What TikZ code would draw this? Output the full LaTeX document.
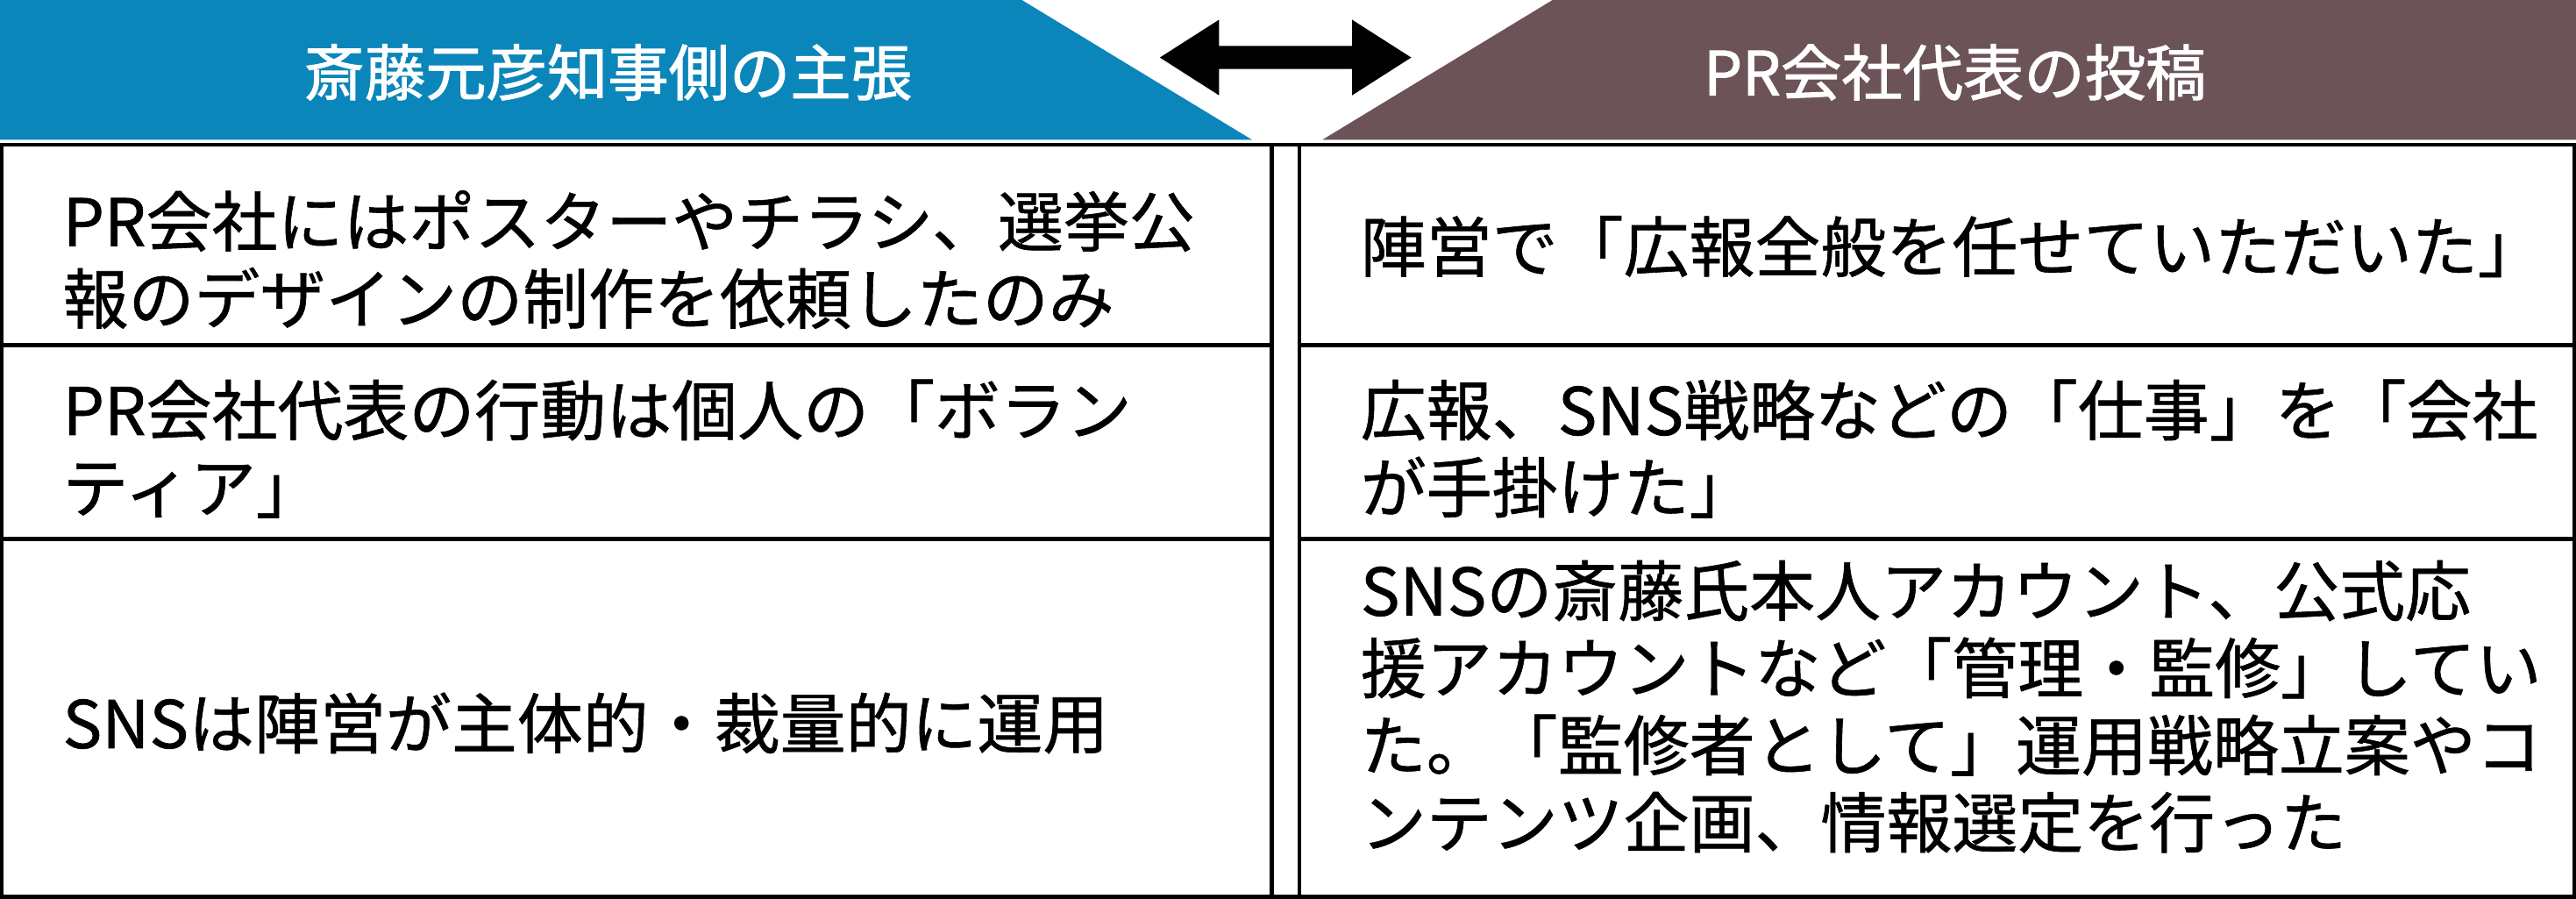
\documentclass[tikz,border=0pt]{standalone}
\usepackage{fontspec}
\setmainfont{Noto Sans CJK JP}
\newfontfamily\medfont[FakeBold=0.8]{Noto Sans CJK JP}
\newfontfamily\hfont[FakeBold=1.5]{Noto Sans CJK JP}
\definecolor{hblue}{HTML}{0B86BA}
\definecolor{hbrown}{HTML}{6C5358}
\tikzset{
  cell/.style={anchor=west,align=left,inner sep=0pt,font=\medfont\fontsize{40}{47}\selectfont},
  head/.style={text=white,inner sep=0pt,font=\hfont\fontsize{37}{40}\selectfont},
  rule/.style={line width=2.4pt,black}
}
\begin{document}
\begin{tikzpicture}[x=1pt,y=-1pt]
\useasboundingbox (0,0) rectangle (1568,547);
\fill[hblue] (0,0) -- (622,0) -- (762,85) -- (0,85) -- cycle;
\fill[hbrown] (945,0) -- (1568,0) -- (1568,85) -- (805,85) -- cycle;
\node[head] (hl) at (370,44) {斎藤元彦知事側の主張};
\node[head] (hr) at (1190,44) {PR会社代表の投稿};
\fill[black] (706,35) -- (742,12) -- (742,28) -- (823,28) -- (823,12) -- (859,35)
  -- (823,58) -- (823,42) -- (742,42) -- (742,58) -- cycle;
\draw[rule] (1.2,88) rectangle (1566.8,545.8);
\draw[rule] (774,88) -- (774,545);
\draw[rule] (791,88) -- (791,545);
\draw[rule] (1,210) -- (774,210);
\draw[rule] (791,210) -- (1567,210);
\draw[rule] (1,328) -- (774,328);
\draw[rule] (791,328) -- (1567,328);
\node[cell] (l1) at (38,158) {PR会社にはポスターやチラシ、選挙公\\報のデザインの制作を依頼したのみ};
\node[cell] (l2) at (38,273) {PR会社代表の行動は個人の「ボラン\\ティア」};
\node[cell] (l3) at (38,440) {SNSは陣営が主体的・裁量的に運用};
\node[cell] (r1) at (828,150) {陣営で「広報全般を任せていただいた」};
\node[cell] (r2) at (828,273) {広報、SNS戦略などの「仕事」を「会社\\が手掛けた」};
\node[cell] (r3) at (828,430) {SNSの斎藤氏本人アカウント、公式応\\援アカウントなど「管理・監修」してい\\た。「監修者として」運用戦略立案やコ\\ンテンツ企画、情報選定を行った};
\end{tikzpicture}
\end{document}
